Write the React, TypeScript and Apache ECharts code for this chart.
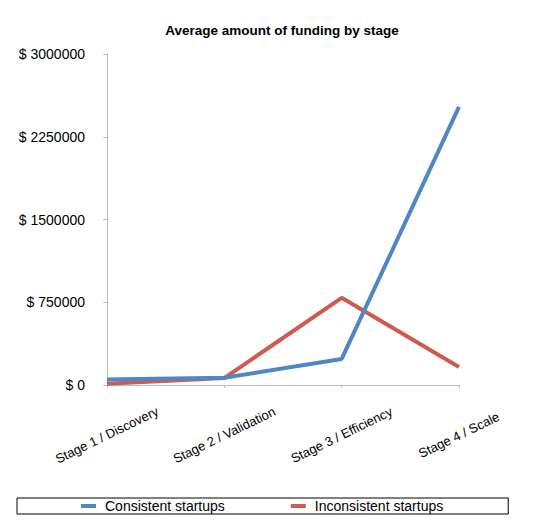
import { useEffect, useRef } from "react";
import * as echarts from "echarts";

const stages = [
  "Stage 1 / Discovery",
  "Stage 2 / Validation",
  "Stage 3 / Efficiency",
  "Stage 4 / Scale",
];
const consistent = [50000, 65000, 236000, 2520000];
const inconsistent = [12000, 63000, 790000, 163000];
const yTicks = [0, 750000, 1500000, 2250000, 3000000];

const App = () => {
  const chartRef = useRef<HTMLDivElement>(null);

  useEffect(() => {
    document.body.style.margin = "0";
    const chart = echarts.init(chartRef.current!, null, { renderer: "svg" });
    const axisGray = "#bdbdbd";
    chart.setOption({
      animation: false,
      backgroundColor: "#fff",
      textStyle: { fontFamily: "Liberation Sans, Arial, sans-serif" },
      title: {
        text: "Average amount of funding by stage",
        left: 282,
        top: 23,
        padding: 0,
        textAlign: "center",
        textStyle: { fontSize: 13.5, fontWeight: "bold", color: "#000" },
      },
      grid: { left: 107, right: 81, top: 54, bottom: 143 },
      legend: {
        data: ["Consistent startups", "Inconsistent startups"],
        left: 17,
        top: 498,
        padding: [1, 65, 1, 64],
        borderColor: "#000",
        borderWidth: 1,
        itemWidth: 15,
        itemHeight: 4,
        itemGap: 66,
        icon: "rect",
        textStyle: { fontSize: 14, color: "#000", padding: [0, 0, 0, 4] },
      },
      xAxis: {
        type: "category",
        data: stages,
        boundaryGap: false,
        axisLine: { lineStyle: { color: axisGray, width: 1 } },
        axisTick: { show: true, length: 3, lineStyle: { color: axisGray } },
        axisLabel: {
          interval: 0,
          rotate: 26,
          align: "center",
          verticalAlign: "middle",
          margin: 50,
          fontSize: 13,
          color: "#000",
        },
        splitLine: { show: false },
      },
      yAxis: {
        type: "value",
        min: yTicks[0],
        max: yTicks[yTicks.length - 1],
        interval: yTicks[1] - yTicks[0],
        axisLine: { show: true, lineStyle: { color: axisGray, width: 1 } },
        axisTick: { show: true, length: 4, lineStyle: { color: axisGray } },
        axisLabel: {
          margin: 22,
          fontSize: 14,
          color: "#000",
          formatter: (v: number) => "$ " + v,
        },
        splitLine: { show: false },
      },
      series: [
        {
          name: "Consistent startups",
          type: "line",
          data: consistent,
          showSymbol: false,
          z: 3,
          itemStyle: { color: "#4f87c6" },
          lineStyle: { color: "#4f87c6", width: 4 },
        },
        {
          name: "Inconsistent startups",
          type: "line",
          data: inconsistent,
          showSymbol: false,
          z: 2,
          itemStyle: { color: "#cf5a4f" },
          lineStyle: { color: "#cf5a4f", width: 4 },
        },
      ],
    });
    return () => {
      chart.dispose();
    };
  }, []);

  return <div ref={chartRef} style={{ width: 540, height: 528 }} />;
};

export default App;
